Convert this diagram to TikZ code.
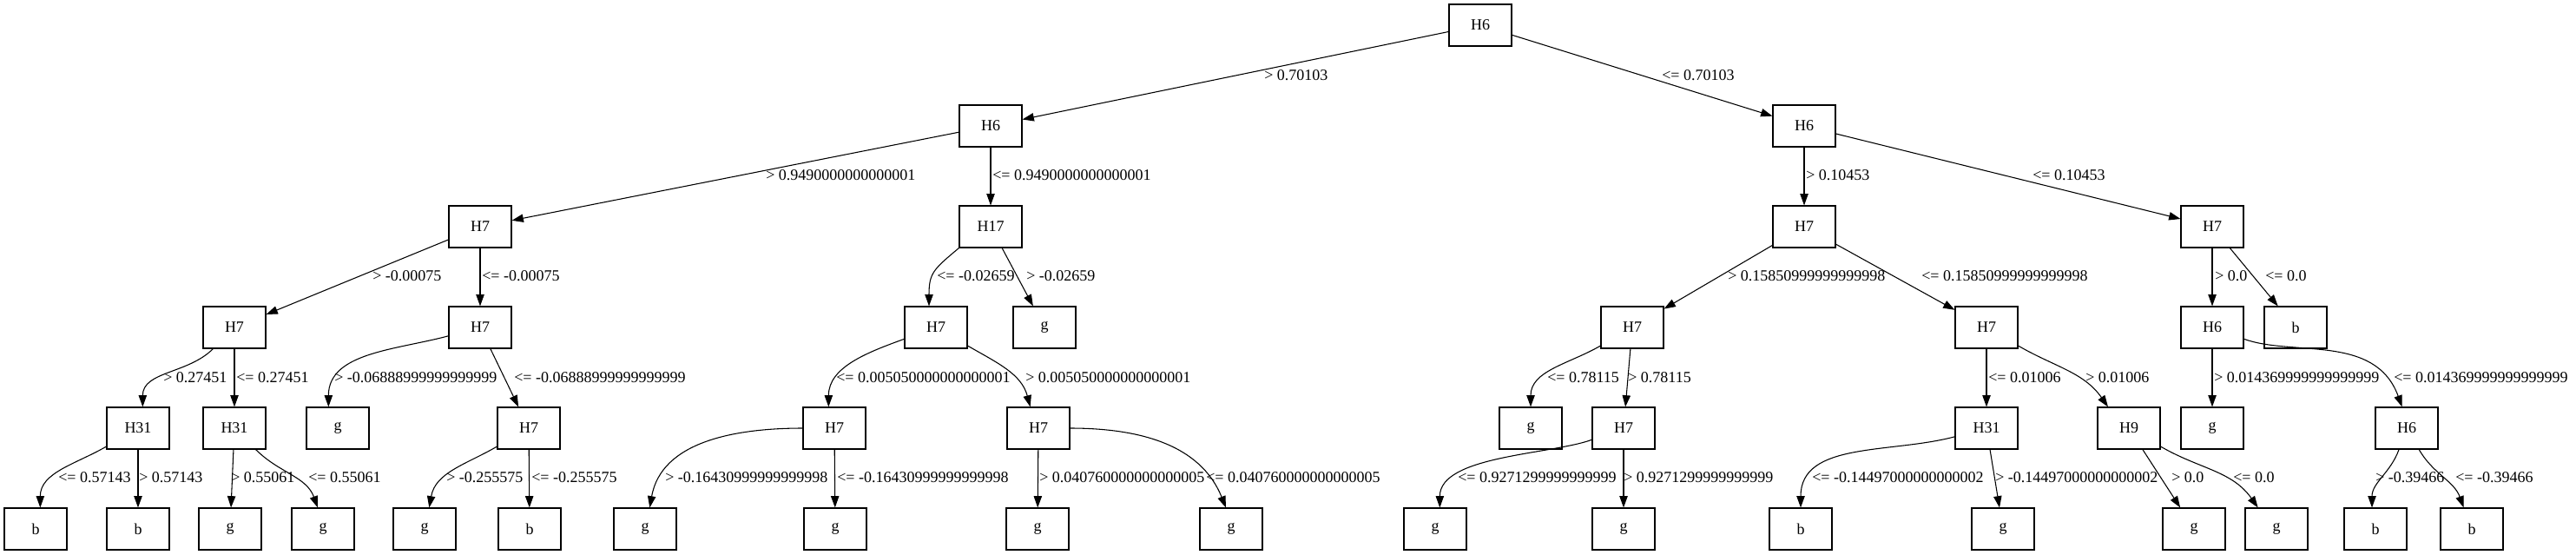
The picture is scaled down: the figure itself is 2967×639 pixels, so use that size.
\documentclass[tikz,border=0pt]{standalone}
\usepackage{fontspec}
\setmainfont{Liberation Serif}
\usetikzlibrary{arrows.meta}

\begin{document}
\begin{tikzpicture}[x=0.75pt,y=0.75pt,font=\fontsize{13.5}{16}\selectfont,box/.style={draw,line width=0.8pt,minimum width=54pt,minimum height=36pt,inner sep=0pt},arr/.style={-{Triangle[length=10pt,width=7pt]},line width=0.8pt},lbl/.style={anchor=west,inner sep=0pt}]
\useasboundingbox (0,0) rectangle (2967,-639);
\node[box] (n0) at (1705,-29) {H6};
\node[box] (n1) at (1141,-145) {H6};
\node[box] (n2) at (2078,-145) {H6};
\node[box] (n3) at (553,-261) {H7};
\node[box] (n4) at (1141,-261) {H17};
\node[box] (n5) at (2078,-261) {H7};
\node[box] (n6) at (2548,-261) {H7};
\node[box] (n7) at (270,-377) {H7};
\node[box] (n8) at (553,-377) {H7};
\node[box] (n9) at (1078,-377) {H7};
\node[box] (n10) at (1203,-377) {g};
\node[box] (n11) at (1880,-377) {H7};
\node[box] (n12) at (2288,-377) {H7};
\node[box] (n13) at (2548,-377) {H6};
\node[box] (n14) at (2644,-377) {b};
\node[box] (n15) at (159,-493) {H31};
\node[box] (n16) at (270,-493) {H31};
\node[box] (n17) at (389,-493) {g};
\node[box] (n18) at (609,-493) {H7};
\node[box] (n19) at (961,-493) {H7};
\node[box] (n20) at (1196,-493) {H7};
\node[box] (n21) at (1763,-493) {g};
\node[box] (n22) at (1870,-493) {H7};
\node[box] (n23) at (2288,-493) {H31};
\node[box] (n24) at (2452,-493) {H9};
\node[box] (n25) at (2548,-493) {g};
\node[box] (n26) at (2772,-493) {H6};
\node[box] (n27) at (41,-609) {b};
\node[box] (n28) at (159,-609) {b};
\node[box] (n29) at (265,-609) {g};
\node[box] (n30) at (372,-609) {g};
\node[box] (n31) at (489,-609) {g};
\node[box] (n32) at (610,-609) {b};
\node[box] (n33) at (743,-609) {g};
\node[box] (n34) at (962,-609) {g};
\node[box] (n35) at (1195,-609) {g};
\node[box] (n36) at (1418,-609) {g};
\node[box] (n37) at (1653,-609) {g};
\node[box] (n38) at (1870,-609) {g};
\node[box] (n39) at (2074,-609) {b};
\node[box] (n40) at (2307,-609) {g};
\node[box] (n41) at (2527,-609) {g};
\node[box] (n42) at (2622,-609) {g};
\node[box] (n43) at (2736,-609) {b};
\node[box] (n44) at (2847,-609) {b};
\draw[arr] (n0)--(n1);\draw[arr] (n0)--(n2);
\draw[arr] (n1)--(n3);\draw[arr] (n1)--(n4);\draw[arr] (n2)--(n5);\draw[arr] (n2)--(n6);
\draw[arr] (n3)--(n7);\draw[arr] (n3)--(n8);\draw[arr] (n4.south west) to[out=-140,in=90,looseness=1.3] ([xshift=-6pt]n9.north);\draw[arr] (n4)--(n10);
\draw[arr] (n5)--(n11);\draw[arr] (n5)--(n12);\draw[arr] (n6)--(n13);\draw[arr] (n6)--(n14);
\draw[arr] (n7) to[out=-135,in=90] ([xshift=4pt]n15.north);\draw[arr] (n7)--(n16);\draw[arr] (n8) to[out=-165,in=90] ([xshift=-8pt]n17.north);\draw[arr] (n8)--(n18);
\draw[arr] (n9) to[out=-160,in=90] ([xshift=-5pt]n19.north);\draw[arr] (n9) to[out=-30,in=105] ([xshift=-7pt]n20.north);\draw[arr] (n11) to[out=-150,in=90] (n21.north);\draw[arr] (n11)--(n22);
\draw[arr] (n12)--(n23);\draw[arr] (n12) to[out=-30,in=125] ([xshift=-18pt]n24.north);\draw[arr] (n13)--(n25);\draw[arr] (n13.-20) .. controls +(-20:60) and +(110:90) .. ([xshift=-4pt]n26.north);
\draw[arr] (n15) to[out=-150,in=90] ([xshift=4pt]n27.north);\draw[arr] (n15)--(n28);\draw[arr] (n16)--(n29);\draw[arr] (n16) to[out=-45,in=110] ([xshift=-4.5pt]n30.north);
\draw[arr] (n18) to[out=-150,in=80] ([xshift=4pt]n31.north);\draw[arr] (n18)--(n32);\draw[arr] (n19) to[out=180,in=80] ([xshift=4pt]n33.north);\draw[arr] (n19)--(n34);
\draw[arr] (n20)--(n35);\draw[arr] (n20) to[out=0,in=112] ([xshift=-4.5pt]n36.north);\draw[arr] (n22.200) .. controls +(200:50) and +(0,60) .. ([xshift=4pt]n37.north);\draw[arr] (n22)--(n38);
\draw[arr] (n23) to[out=-165,in=90] (n39.north);\draw[arr] (n23)--(n40);\draw[arr] (n24)--(n41);\draw[arr] (n24) to[out=-30,in=125] ([xshift=-16pt]n42.north);
\draw[arr] (n26) to[out=-110,in=90] ([xshift=-3pt]n43.north);\draw[arr] (n26) to[out=-60,in=110] ([xshift=-7pt]n44.north);
\node[lbl] (e1) at (1456,-87) {> 0.70103};
\node[lbl] (e2) at (1914,-87) {<= 0.70103};
\node[lbl] (e3) at (882,-202) {> 0.9490000000000001};
\node[lbl] (e4) at (1143,-202) {<= 0.9490000000000001};
\node[lbl] (e5) at (2080,-202) {> 0.10453};
\node[lbl] (e6) at (2341,-202) {<= 0.10453};
\node[lbl] (e7) at (429,-318) {> -0.00075};
\node[lbl] (e8) at (555,-318) {<= -0.00075};
\node[lbl] (e9) at (1079,-318) {<= -0.02659};
\node[lbl] (e10) at (1182,-318) {> -0.02659};
\node[lbl] (e11) at (1990,-318) {> 0.15850999999999998};
\node[lbl] (e12) at (2213,-318) {<= 0.15850999999999998};
\node[lbl] (e13) at (2551,-318) {> 0.0};
\node[lbl] (e14) at (2609,-318) {<= 0.0};
\node[lbl] (e15) at (188,-435) {> 0.27451};
\node[lbl] (e16) at (272,-435) {<= 0.27451};
\node[lbl] (e17) at (385,-435) {> -0.06888999999999999};
\node[lbl] (e18) at (592,-435) {<= -0.06888999999999999};
\node[lbl] (e19) at (963,-435) {<= 0.005050000000000001};
\node[lbl] (e20) at (1181,-435) {> 0.005050000000000001};
\node[lbl] (e21) at (1782,-435) {<= 0.78115};
\node[lbl] (e22) at (1875,-435) {> 0.78115};
\node[lbl] (e23) at (2290,-435) {<= 0.01006};
\node[lbl] (e24) at (2402,-435) {> 0.01006};
\node[lbl] (e25) at (2550,-435) {> 0.014369999999999999};
\node[lbl] (e26) at (2757,-435) {<= 0.014369999999999999};
\node[lbl] (e27) at (67,-550) {<= 0.57143};
\node[lbl] (e28) at (160,-550) {> 0.57143};
\node[lbl] (e29) at (266,-550) {> 0.55061};
\node[lbl] (e30) at (355,-550) {<= 0.55061};
\node[lbl] (e31) at (514,-550) {> -0.255575};
\node[lbl] (e32) at (612,-550) {<= -0.255575};
\node[lbl] (e33) at (766,-550) {> -0.16430999999999998};
\node[lbl] (e34) at (964,-550) {<= -0.16430999999999998};
\node[lbl] (e35) at (1197,-550) {> 0.040760000000000005};
\node[lbl] (e36) at (1389,-550) {<= 0.040760000000000005};
\node[lbl] (e37) at (1679,-550) {<= 0.9271299999999999};
\node[lbl] (e38) at (1870,-550) {> 0.9271299999999999};
\node[lbl] (e39) at (2087,-550) {<= -0.14497000000000002};
\node[lbl] (e40) at (2298,-550) {> -0.14497000000000002};
\node[lbl] (e41) at (2501,-550) {> 0.0};
\node[lbl] (e42) at (2572,-550) {<= 0.0};
\node[lbl] (e43) at (2736,-550) {> -0.39466};
\node[lbl] (e44) at (2828,-550) {<= -0.39466};
\end{tikzpicture}
\end{document}
